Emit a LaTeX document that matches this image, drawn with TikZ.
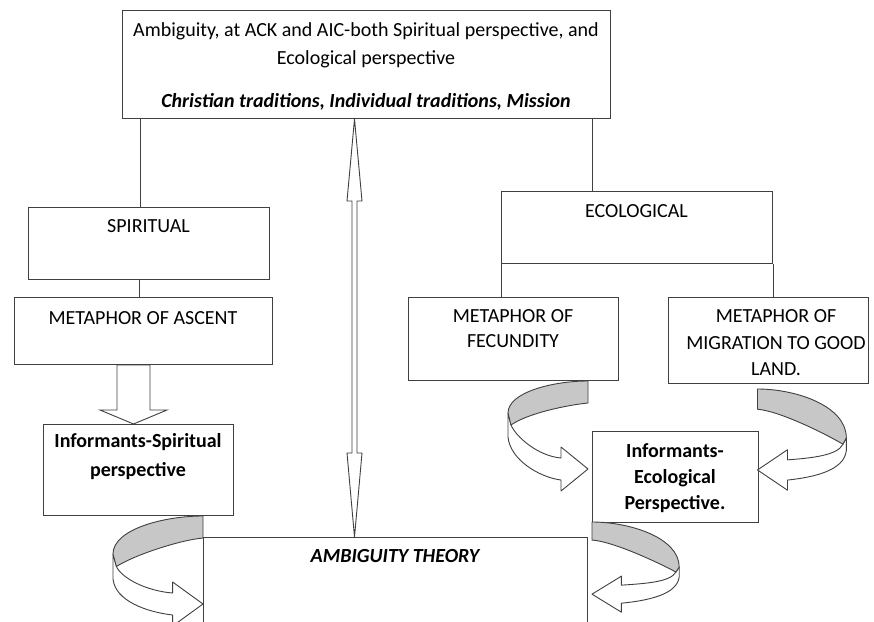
\documentclass[tikz,border=0pt]{standalone}
\usepackage{fontspec}
\setmainfont{Carlito}
\usetikzlibrary{calc,positioning}
\colorlet{myline}{black!75}
\colorlet{myshade}{black!22}
\newcommand\twist[5]{
  % ribbon that turns back on itself: #1 start, #2/#3 scale, #4 depth of the turn, #5 front edge
  \begin{scope}[shift={(#1)}, xscale=#2, yscale=#3]
    \filldraw[ribbon front] (-80,#4) -- (-80,{#4+#5})
      .. controls (-78,{#4+#5+22}) and (-50,96) .. (-27,99)
      -- (-27,110) -- (0,88) -- (-27,66) -- (-27,77)
      .. controls (-50,75) and (-72,{#4+#5/2+12}) .. (-77,{#4+#5/2}) -- cycle;
    % the back of the band, seen from behind
    \filldraw[ribbon back] (0,0) .. controls (-35,0) and (-80,{0.35*#4}) .. (-80,#4)
      -- (-77,{#4+#5/2}) .. controls (-60,{#4+#5/2-12}) and (-20,24) .. (0,22) -- cycle;
  \end{scope}
}

\begin{document}
\begin{tikzpicture}[
    x=1pt, y=-1pt,
    box/.style={draw=myline, line width=1pt, fill=white, inner sep=0pt, anchor=north west},
    caption/.style={font=\fontsize{20}{27}\selectfont, align=center, inner sep=0pt, anchor=base},
    link/.style={draw=myline, line width=1pt},
    hollow/.style={draw=myline, line width=0.9pt, fill=white, line join=miter},
    ribbon front/.style={draw=myline, line width=0.9pt, fill=white, line join=round},
    ribbon back/.style={ribbon front, fill=myshade},
  ]
  \useasboundingbox[fill=white] (0,0) rectangle (874,621);

  % ------------------------------------------------------------------ boxes
  \node[box, minimum width=488, minimum height=108] (top)        at (122,10)  {};
  \node[box, minimum width=241, minimum height=72]  (spiritual)  at (28,207)  {};
  \node[box, minimum width=258, minimum height=67]  (ascent)     at (14,297)  {};
  \node[box, minimum width=190, minimum height=91]  (inf-spirit) at (43,424)  {};
  \node[box, minimum width=384, minimum height=113] (theory)     at (203,537) {};
  \node[box, minimum width=271, minimum height=72]  (ecological) at (501,191) {};
  \node[box, minimum width=210, minimum height=83]  (fecundity)  at (408,297) {};
  \node[box, minimum width=200, minimum height=86]  (migration)  at (668,297) {};
  \node[box, minimum width=166, minimum height=91]  (inf-eco)    at (592,431) {};

  % ------------------------------------------------------------------ tree lines
  \draw[link] ([xshift=-8.5]spiritual.north) -- ([xshift=-8.5]spiritual.north |- top.south);
  \draw[link] ([xshift=-4]ascent.north) -- ([xshift=-4]ascent.north |- spiritual.south);
  \draw[link] ([xshift=-44.5]ecological.north) -- ([xshift=-44.5]ecological.north |- top.south);
  \draw[link] (ecological.south west) -- (ecological.south west |- fecundity.north);
  \draw[link] (ecological.south east) -- (ecological.south east |- migration.north);

  % ------------------------------------------------------------------ arrows
  \coordinate (dtop) at ([xshift=-12]top.south);
  \coordinate (dbot) at (dtop |- theory.north);
  \filldraw[hollow] (dtop) -- ([shift={(7.5,82)}]dtop) -- ([shift={(2.5,82)}]dtop)
    -- ([shift={(2.5,-84)}]dbot) -- ([shift={(7.5,-84)}]dbot) -- (dbot)
    -- ([shift={(-7.5,-84)}]dbot) -- ([shift={(-2.5,-84)}]dbot)
    -- ([shift={(-2.5,82)}]dtop) -- ([shift={(-7.5,82)}]dtop) -- cycle;

  \coordinate (btip) at ([xshift=-5]inf-spirit.north);
  \coordinate (bstart) at (btip |- ascent.south);
  \filldraw[hollow] ([xshift=-16.5]bstart) -- ([xshift=16.5]bstart)
    -- ([shift={(16.5,-14)}]btip) -- ([shift={(33.5,-14)}]btip) -- (btip)
    -- ([shift={(-33.5,-14)}]btip) -- ([shift={(-16.5,-14)}]btip) -- cycle;

  \coordinate (fec-start) at ([xshift=-31]fecundity.south east);
  \coordinate (mig-start) at ([shift={(-11,5)}]migration.south);
  \coordinate (spi-start) at (theory.north west |- inf-spirit.south);
  \coordinate (eco-start) at ([yshift=1]inf-eco.south west);
  \twist{fec-start}{1}{1}{32}{24}
  \twist{spi-start}{1.125}{1}{38}{25}
  \twist{mig-start}{-1.11}{0.92}{53}{14}
  \twist{eco-start}{-1.09}{0.82}{55}{12}

  % ------------------------------------------------------------------ texts (placed by last baseline)
  \node[caption, font=\fontsize{20}{28}\selectfont] (top-t) at (366,107.5)
    {Ambiguity, at ACK and AIC-both Spiritual perspective, and\\
     Ecological perspective\\[15pt]
     \textbf{\textit{Christian traditions, Individual traditions, Mission}}};
  \node[caption] (spiritual-t)  at (148.5,232.5) {SPIRITUAL};
  \node[caption] (ascent-t)     at (143,324.5)   {METAPHOR OF ASCENT};
  \node[caption, font=\fontsize{20}{29}\selectfont\bfseries] (inf-spirit-t) at (138,476.5)
    {Informants-Spiritual\\perspective};
  \node[caption, font=\fontsize{20}{27}\selectfont\bfseries\itshape] (theory-t) at (395,562.5)
    {AMBIGUITY THEORY};
  \node[caption] (ecological-t) at (636.5,217.5) {ECOLOGICAL};
  \node[caption, font=\fontsize{20}{25}\selectfont] (fecundity-t) at (513,347.5)
    {METAPHOR OF\\FECUNDITY};
  \node[caption, font=\fontsize{20}{26.5}\selectfont] (migration-t) at (776,375.5)
    {METAPHOR OF\\MIGRATION TO GOOD\\LAND.};
  \node[caption, font=\fontsize{20}{26}\selectfont\bfseries] (inf-eco-t) at (675,509.5)
    {Informants-\\Ecological\\Perspective.};

\end{tikzpicture}
\end{document}
